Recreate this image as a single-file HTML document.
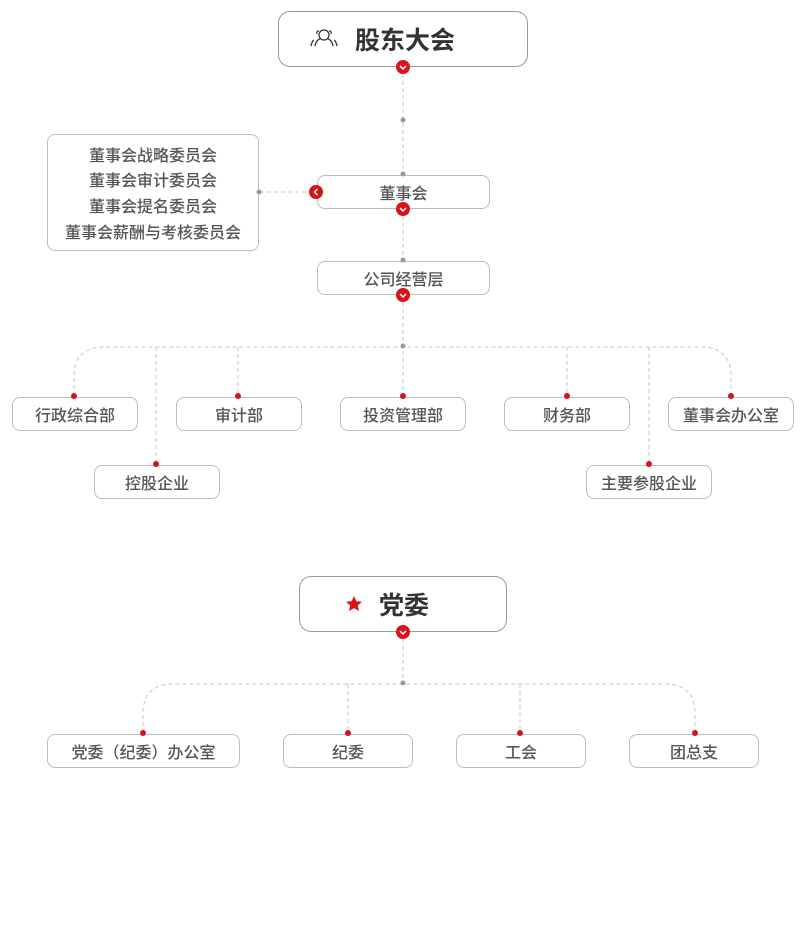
<!DOCTYPE html>
<html><head><meta charset="utf-8"><style>
html,body{margin:0;padding:0;background:#fff;width:805px;height:932px;overflow:hidden}
body{position:relative;font-family:"Liberation Sans","Noto Sans CJK SC",sans-serif}
.b{position:absolute;box-sizing:border-box;border:1px solid #bdbdbd;border-radius:8px;background:#fff;display:flex;align-items:center;justify-content:center;color:#555;font-size:16px;font-weight:500}
.big{border:1.5px solid #999;border-radius:12px;color:#333;font-size:25px;font-weight:bold}
svg{position:absolute;left:0;top:0}
</style></head><body>
<div class="b big" style="left:278px;top:11px;width:250px;height:56px;justify-content:flex-start;padding-left:76px">股东大会</div>
<div class="b" style="left:47px;top:134px;width:212px;height:117px;flex-direction:column;line-height:25.7px;padding-top:5px">
<div>董事会战略委员会</div><div>董事会审计委员会</div><div>董事会提名委员会</div><div>董事会薪酬与考核委员会</div></div>
<div class="b" style="left:317px;top:175px;width:173px;height:34px">董事会</div>
<div class="b" style="left:317px;top:261px;width:173px;height:34px">公司经营层</div>
<div class="b" style="left:12px;top:397px;width:126px;height:34px">行政综合部</div>
<div class="b" style="left:176px;top:397px;width:126px;height:34px">审计部</div>
<div class="b" style="left:340px;top:397px;width:126px;height:34px">投资管理部</div>
<div class="b" style="left:504px;top:397px;width:126px;height:34px">财务部</div>
<div class="b" style="left:668px;top:397px;width:126px;height:34px">董事会办公室</div>
<div class="b" style="left:94px;top:465px;width:126px;height:34px">控股企业</div>
<div class="b" style="left:586px;top:465px;width:126px;height:34px">主要参股企业</div>
<div class="b big" style="left:299px;top:576px;width:208px;height:56px;justify-content:flex-start;padding-left:79px">党委</div>
<div class="b" style="left:47px;top:734px;width:193px;height:34px">党委（纪委）办公室</div>
<div class="b" style="left:283px;top:734px;width:130px;height:34px">纪委</div>
<div class="b" style="left:456px;top:734px;width:130px;height:34px">工会</div>
<div class="b" style="left:629px;top:734px;width:130px;height:34px">团总支</div>
<svg width="805" height="932">
<g stroke="#c4c4c4" stroke-width="1" stroke-dasharray="4,3" fill="none">
<line x1="403" y1="67" x2="403" y2="175"/>
<line x1="260" y1="192" x2="316" y2="192"/>
<line x1="403" y1="209" x2="403" y2="261"/>
<line x1="403" y1="295" x2="403" y2="396"/>
<path d="M74 396 V377 Q74 347 104 347 H701 Q731 347 731 377 V396"/>
<line x1="238" y1="347" x2="238" y2="396"/>
<line x1="567" y1="347" x2="567" y2="396"/>
<line x1="156" y1="347" x2="156" y2="464"/>
<line x1="649" y1="347" x2="649" y2="464"/>
<line x1="403" y1="632" x2="403" y2="684"/>
<path d="M143 733 V714 Q143 684 173 684 H665 Q695 684 695 714 V733"/>
<line x1="348" y1="684" x2="348" y2="733"/>
<line x1="520" y1="684" x2="520" y2="733"/>
</g>
<g fill="#999">
<circle cx="403" cy="120" r="2.5"/><circle cx="403" cy="174" r="2.5"/><circle cx="259" cy="192" r="2.5"/>
<circle cx="403" cy="260" r="2.5"/><circle cx="403" cy="346" r="2.5"/><circle cx="403" cy="683" r="2.5"/>
</g>
<g fill="none" stroke="#333" stroke-width="1.3">
<circle cx="324" cy="35" r="5"/>
<path d="M315 46 Q316 40 320 39"/><path d="M333 46 Q332 40 328 39"/>
<path d="M317 34 Q316 31 319 31"/><path d="M331 34 Q332 31 329 31"/>
<path d="M311 46 Q312 41 314 40"/><path d="M337 46 Q336 41 334 40"/>
</g>
<g fill="#d7141e">
<circle cx="74" cy="396" r="3"/><circle cx="238" cy="396" r="3"/><circle cx="403" cy="396" r="3"/>
<circle cx="567" cy="396" r="3"/><circle cx="731" cy="396" r="3"/><circle cx="156" cy="464" r="3"/>
<circle cx="649" cy="464" r="3"/><circle cx="143" cy="733" r="3"/><circle cx="348" cy="733" r="3"/>
<circle cx="520" cy="733" r="3"/><circle cx="695" cy="733" r="3"/>
<circle cx="403" cy="67" r="7"/><circle cx="403" cy="209" r="7"/><circle cx="403" cy="295" r="7"/>
<circle cx="316" cy="192" r="7"/><circle cx="403" cy="632" r="7"/>
<polygon points="354,596 356.4,601.3 362,601.8 357.8,605.5 359,611 354,608.2 349,611 350.2,605.5 346,601.8 351.6,601.3"/>
</g>
<g fill="none" stroke="#fff" stroke-width="1.5">
<path d="M400 66 L403 69 L406 66"/><path d="M400 208 L403 211 L406 208"/><path d="M400 294 L403 297 L406 294"/>
<path d="M400 631 L403 634 L406 631"/><path d="M317.5 189 L314.5 192 L317.5 195"/>
</g>
</svg>
</body></html>
